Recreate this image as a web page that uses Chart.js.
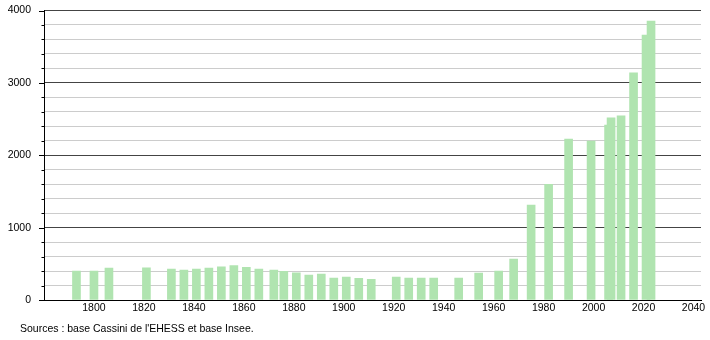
<!doctype html>
<html>
<head>
<meta charset="utf-8">
<title>Population</title>
<script src="https://cdn.jsdelivr.net/npm/chart.js@4/dist/chart.umd.min.js"></script>
<style>
body { margin: 0; background: #fff; }
#wrap { position: relative; width: 710px; height: 340px; }
#source {
	position: absolute; left: 20px; top: 322px;
	font: 10.5px "Liberation Sans", Arial, sans-serif; color: #000;
	line-height: 13px; white-space: nowrap;
}
</style>
</head>
<body>
<div id="wrap">
	<canvas id="canvas"></canvas>
	<div id="source">Sources : base Cassini de l'EHESS et base Insee.</div>
</div>
<script>
// census years and population
const years = [1793, 1800, 1806, 1821, 1831, 1836, 1841, 1846, 1851, 1856,
	1861, 1866, 1872, 1876, 1881, 1886, 1891, 1896, 1901, 1906,
	1911, 1921, 1926, 1931, 1936, 1946, 1954, 1962, 1968, 1975,
	1982, 1990, 1999, 2006, 2007, 2011, 2016, 2021, 2023];
const population = [400, 400, 442, 446, 428, 414, 428, 442, 460, 474,
	451, 428, 414, 396, 377, 345, 359, 304, 318, 300,
	285, 318, 304, 304, 304, 304, 373, 400, 566, 1312,
	1598, 2224, 2196, 2417, 2518, 2546, 3140, 3660, 3854];
const xTicks = [1800, 1820, 1840, 1860, 1880, 1900, 1920, 1940, 1960, 1980, 2000, 2020, 2040];
const yLabels = [0, 1000, 2000, 3000, 4000];

const font = { family: "'Liberation Sans', Arial, sans-serif", size: 10.5 };

// short tick marks on the y axis, longer for the labelled values
const yTickMarks = {
	id: 'yTickMarks',
	afterDraw(chart) {
		const y = chart.scales.y;
		const ctx = chart.ctx;
		ctx.save();
		ctx.strokeStyle = '#000';
		ctx.lineWidth = 1;
		y.ticks.forEach(t => {
			const py = Math.round(y.getPixelForValue(t.value)) + 0.5;
			const len = yLabels.includes(t.value) ? 5 : 2.5;
			ctx.beginPath();
			ctx.moveTo(y.right - len, py);
			ctx.lineTo(y.right, py);
			ctx.stroke();
		});
		ctx.restore();
	}
};

new Chart(document.getElementById('canvas'), {
	type: 'bar',
	data: {
		datasets: [{
			data: years.map((yr, i) => ({ x: yr, y: population[i] })),
			backgroundColor: 'rgb(176, 228, 176)',
			borderWidth: 0,
			barThickness: 8
		}]
	},
	options: {
		responsive: true,
		maintainAspectRatio: false,
		animation: false,
		layout: { padding: { top: 10.5, right: 9, left: 0, bottom: 0 } },
		plugins: { legend: { display: false }, tooltip: { enabled: false } },
		scales: {
			x: {
				type: 'linear',
				min: 1780,
				max: 2043,
				offset: false,
				afterBuildTicks: s => { s.ticks = xTicks.map(v => ({ value: v })); },
				afterFit: s => { s.height = 40; s.paddingLeft = 0; s.paddingRight = 0; },
				grid: { display: false, drawTicks: false },
				border: { display: true, color: '#000', width: 1 },
				ticks: { font: font, color: '#000', padding: 2, maxRotation: 0, autoSkip: false,
					callback: v => String(v) }
			},
			y: {
				min: 0,
				max: 4000,
				afterFit: s => { s.width = 44; s.paddingTop = 0; s.paddingBottom = 0; },
				grid: {
					drawTicks: false,
					color: c => (yLabels.includes(c.tick.value) ? '#444' : '#cccccc'),
					lineWidth: 1
				},
				border: { display: true, color: '#000', width: 1 },
				ticks: { stepSize: 200, font: font, color: '#000', padding: 13, autoSkip: false,
					callback: v => (yLabels.includes(v) ? String(v) : '') }
			}
		}
	},
	plugins: [yTickMarks]
});
</script>
</body>
</html>
